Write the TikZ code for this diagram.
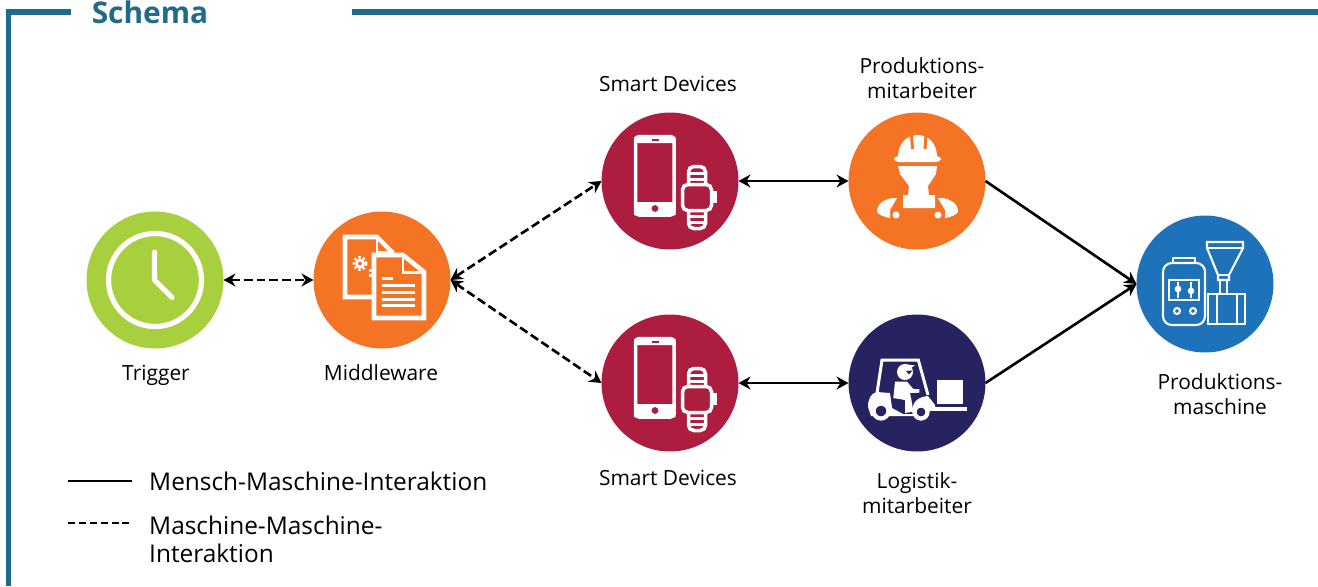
\documentclass[tikz,border=0pt]{standalone}
\usepackage{fontspec}
\setmainfont{Open Sans}
\usetikzlibrary{positioning, arrows.meta}
\definecolor{framec}{HTML}{1F6A8D}
\definecolor{limec}{HTML}{A8CF3D}
\definecolor{orangec}{HTML}{F47324}
\definecolor{redc}{HTML}{AC1D3F}
\definecolor{navyc}{HTML}{272361}
\definecolor{bluec}{HTML}{1E72BA}
\tikzset{
    >={Stealth[length=2.4mm, width=2.6mm]},
    disc/.style={circle, minimum size=2.74cm, inner sep=0pt, outer sep=0pt},
    lbl/.style={align=center, font=\fontsize{11.9}{14.2}\selectfont},
    human/.style={<->, line width=1.5pt},
    mach/.style={<->, line width=1.5pt, dash pattern=on 5pt off 2.3pt},
    icon/.style={draw=white, line width=1.7pt},
    pics/smartdev/.style={code={
        \draw[icon, line width=2pt, rounded corners=2pt] (-34.5,-44.5) rectangle (4,34);
        \fill[white] (-36,-44) rectangle (5.5,-38) (-36,21) rectangle (5.5,34);
        \fill[redc] (-18,-42) rectangle (-11,-40.5);
        \fill[redc] (-15,27.5) circle (3.4);
        \draw[icon, line width=2pt, rounded corners=3pt] (12.5,3.5) rectangle (41.5,29.5);
        \draw[icon, line width=2pt, rounded corners=3pt] (18.5,3.5) -- (18.5,-14.5) -- (35.5,-14.5) -- (35.5,3.5);
        \draw[icon, line width=2pt, rounded corners=3pt] (18.5,29.5) -- (18.5,47.5) -- (35.5,47.5) -- (35.5,29.5);
        \draw[icon] (18.5,-8) -- (35.5,-8) (18.5,-2) -- (35.5,-2) (18.5,35) -- (35.5,35) (18.5,41) -- (35.5,41);
        \fill[white] (43,10) rectangle (47,22);
    }},
}

\begin{document}
\begin{tikzpicture}[x=0.02cm, y=-0.02cm]
    \useasboundingbox (0,0) rectangle (1318,586);

    % frame
    \coordinate (fa) at (71,12);
    \coordinate (fb) at (8.5,12);
    \coordinate (fc) at (8.5,586);
    \coordinate (fd) at (352,12);
    \coordinate (fe) at (1318,12);
    \draw[framec, line width=2.9pt] (fa) -- (fb) -- (fc);
    \draw[framec, line width=2.9pt] (fd) -- (fe);
    \node[text=framec, font=\bfseries\fontsize{17}{20}\selectfont] (title) at (150,12) {Schema};

    % circles
    \node[disc, fill=limec] (trigger) at (155,280) {};
    \node[disc, fill=orangec] (middle) at (382,280) {};
    \node[disc, fill=redc] (smarta) at (670,181) {};
    \node[disc, fill=redc] (smartb) at (670,383) {};
    \node[disc, fill=orangec] (worker) at (917,181) {};
    \node[disc, fill=navyc] (driver) at (917,383) {};
    \node[disc, fill=bluec] (machine) at (1205,284) {};

    % labels
    \node[lbl] (ltrigger) at (156,375) {Trigger};
    \node[lbl] (lmiddle) at (381,373) {Middleware};
    \node[lbl] (lsmarta) at (668,84) {Smart Devices};
    \node[lbl] (lsmartb) at (668,478) {Smart Devices};
    \node[lbl] (lworker) at (922,78) {Produktions-\\mitarbeiter};
    \node[lbl] (ldriver) at (917,493) {Logistik-\\mitarbeiter};
    \node[lbl] (lmachine) at (1220,394) {Produktions-\\maschine};

    % clock
    \draw[icon, line width=3pt] (trigger) circle (46.5);
    \draw[icon, line width=2.9pt, line cap=round, line join=round]
        (154.5,252) -- (154.5,280) -- (172,297.5);

    % documents
    \begin{scope}[shift={(382,280)}]
        \draw[icon, line width=2.6pt] (-8,17) -- (-37,17) -- (-37,-43) -- (-5,-43) -- (11,-27);
        \draw[icon] (-5,-43) -- (-5,-28) -- (9,-28);
        \draw[white, line width=1.6pt] (-22,-16.5) circle (3.6);
        \draw[white, line width=1.4pt, dash pattern=on 1.3pt off 1.3pt] (-22,-16.5) circle (6.2);
        \draw[white, line width=2.2pt, dash pattern=on 1.6pt off 1.2pt] (-11.5,-11) -- (-11.5,-2);
        \draw[icon, line width=2.6pt, fill=orangec] (-8,-25) -- (21,-25) -- (42,-8) -- (42,38) -- (-8,38) -- cycle;
        \draw[icon] (21,-25) -- (21,-8) -- (40,-8);
        \draw[icon, line width=1.7pt] (0,-1.5) -- (11,-1.5)
            (0,5.7) -- (33,5.7) (0,12.7) -- (33,12.7) (0,19) -- (33,19) (0,25.7) -- (33,25.7);
    \end{scope}

    % smart devices
    \pic at (670,181) {smartdev};
    \pic at (670,383) {smartdev};

    % worker
    \begin{scope}[shift={(917,181)}]
        \fill[white] (-19,-24) .. controls (-19,-38) and (-10,-46) .. (0.5,-46) .. controls (11,-46) and (20,-38) .. (20,-24) -- cycle;
        \fill[white, rounded corners=2.5pt] (-23,-25) rectangle (24,-19);
        \draw[orangec, line width=1.7pt] (-4.5,-32) -- (-5.5,-46) (8,-32) -- (9,-46);
        \fill[white] (-19,-15) -- (20,-15) -- (19,-7) -- (11,5) -- (12,14) -- (18,14) -- (18,27) -- (-14,27) -- (-14,14) -- (-9,14) -- (-8,5) -- (-17,-7) -- cycle;
        \fill[white] (-40,31) .. controls (-40,22) and (-32,18) .. (-24,17) -- (-20,17) -- (-27,29) -- (-27,37) .. controls (-33,36) and (-38,34) .. (-40,31) -- cycle;
        \fill[white] (41,31) .. controls (41,22) and (33,18) .. (25,17) -- (21,17) -- (28,29) -- (28,37) .. controls (34,36) and (39,34) .. (41,31) -- cycle;
        \fill[white] (-21,34) circle (3.5) (21,34) circle (3.5);
    \end{scope}

    % forklift
    \begin{scope}[shift={(917,383)}]
        \draw[icon, line width=1.7pt] (-40,10) -- (-35,-23) -- (1.3,-23) -- (11,12);
        \fill[white] (-12,-11) circle (8);
        \fill[white] (-14,-19) -- (-2,-17.5) -- (-8,-14) -- cycle;
        \fill[navyc] (-11,-12) -- (-4.5,-12.5) -- (-8,-8.5) -- cycle;
        \fill[white] (-22,-1.3) -- (-10,-1.3) -- (-3.7,6) -- (2.3,6) -- (2.3,9.7) -- (-7,10) -- (-5,20) -- (-3.7,28.7) -- (-12,30) -- (-12,17) -- (-23.7,15) -- cycle;
        \fill[white] (-49,24) .. controls (-49,16) and (-46,10) .. (-40,9) -- (-27,10) -- (-25,25) -- (-14,31) -- (-4,31) .. controls (-6,20) and (0,14) .. (11,13) -- (18,22) -- (18,26) -- (-4,33) -- (-28,33) -- (-46,33) -- cycle;
        \fill[white] (12,24) rectangle (50,28);
        \fill[white] (20,-3) rectangle (46,21);
        \draw[icon, line width=2.4pt, fill=navyc] (-36,28) circle (7.5);
        \draw[icon, line width=2.4pt, fill=navyc] (4,29) circle (6.5);
    \end{scope}

    % machine
    \begin{scope}[shift={(1205,284)}]
        \draw[icon, line width=1.2pt, rounded corners=5pt] (-42,41) -- (-42,-21) -- (0,-21) -- (0,41) -- cycle;
        \draw[icon, line width=1.2pt] (-32,-21) -- (-32,-26) -- (-10,-26) -- (-10,-21);
        \draw[icon, line width=1.2pt] (-35.7,-4) rectangle (-5.7,16);
        \draw[icon, line width=1.2pt] (-27,-2) -- (-27,14) (-14,-2) -- (-14,14);
        \draw[icon, line width=1.2pt] (-27,5) circle (2.2) (-14,7) circle (2.2);
        \draw[icon, line width=1.2pt] (-28,27) circle (3) (-12,27) circle (3);
        \draw[icon, line width=1.2pt] (2,-42) -- (38,-42) -- (38,-36) -- (24,-9) -- (24,-4) -- (13,-4) -- (13,-9) -- (2,-36) -- cycle;
        \draw[icon, line width=1.2pt] (2,-36) -- (38,-36) (13,-9) -- (24,-9);
        \draw[icon, line width=1.2pt] (15,-4) -- (15,10) (22,-4) -- (22,10);
        \draw[icon, line width=1.2pt] (3,10) rectangle (40,40);
        \draw[icon, line width=1.2pt] (11.7,10) -- (11.7,40) (31.7,10) -- (31.7,40);
    \end{scope}

    % connectors
    \draw[mach] (trigger) -- (middle);
    \draw[mach] (middle.east) -- (smarta.west);
    \draw[mach] (middle.east) -- (smartb.west);
    \draw[human] (smarta) -- (worker);
    \draw[human] (smartb) -- (driver);
    \draw[->, line width=1.5pt] (worker.east) -- (machine.west);
    \draw[->, line width=1.5pt] (driver.east) -- (machine.west);

    % legend
    \coordinate (lga) at (68,481);
    \coordinate (lgb) at (132,481);
    \coordinate (lgc) at (68,523);
    \coordinate (lgd) at (132,523);
    \draw[line width=1.5pt] (lga) -- (lgb);
    \draw[line width=1.5pt, dash pattern=on 4pt off 2.2pt] (lgc) -- (lgd);
    \node[lbl, anchor=west, font=\fontsize{13.9}{16}\selectfont] (lha) at (143,481) {Mensch-Maschine-Interaktion};
    \node[lbl, anchor=west, align=left, font=\fontsize{13.9}{16}\selectfont] (lhb) at (143,539) {Maschine-Maschine-\\Interaktion};
\end{tikzpicture}
\end{document}
